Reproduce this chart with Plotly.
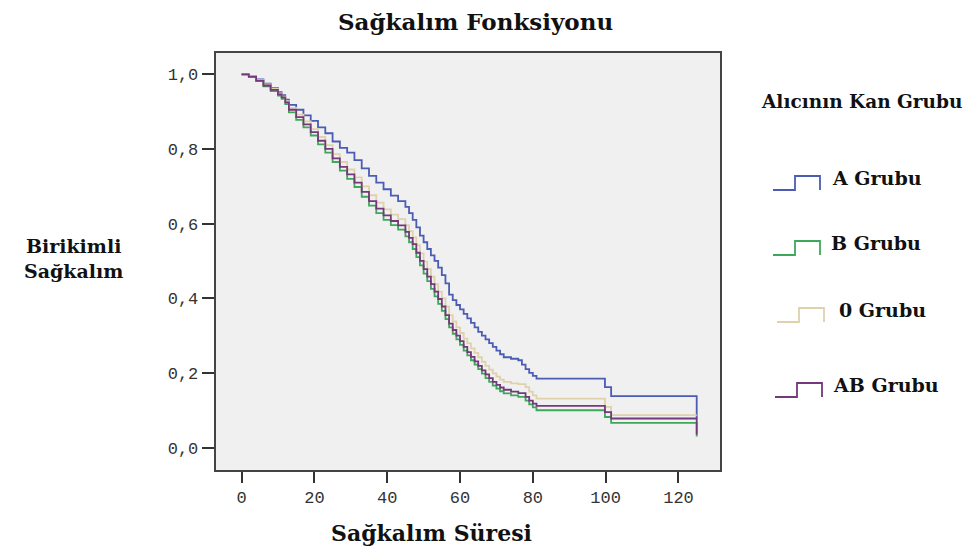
import plotly.graph_objects as go

# ---------------- data ----------------
series_names = ["A Grubu", "B Grubu", "0 Grubu", "AB Grubu"]
series_colors = ["#4a5cb4", "#3da85a", "#ded1ab", "#73397a"]

time_A = [0, 2, 4, 6, 8, 10, 11, 12, 13, 15, 17, 19, 21, 23, 25, 27, 29, 31, 33, 35, 37, 39, 41, 43, 45,
          46, 47, 48, 49, 50, 51, 52, 53, 54, 55, 56, 57, 58, 59, 60, 61, 62, 63, 64, 65, 66, 67, 68, 69,
          70, 71, 72, 74, 76, 77, 78, 79, 80, 81, 99.8, 101.5, 125]
surv_A = [1.0, 0.995, 0.986, 0.975, 0.963, 0.952, 0.944, 0.932, 0.918, 0.905, 0.89, 0.875, 0.858, 0.842,
          0.82, 0.803, 0.79, 0.77, 0.748, 0.728, 0.71, 0.692, 0.675, 0.66, 0.645, 0.628, 0.61, 0.59, 0.568,
          0.55, 0.532, 0.515, 0.5, 0.482, 0.462, 0.44, 0.41, 0.395, 0.382, 0.37, 0.358, 0.346, 0.334, 0.322,
          0.31, 0.3, 0.29, 0.28, 0.27, 0.26, 0.25, 0.242, 0.238, 0.234, 0.222, 0.21, 0.2, 0.192, 0.185,
          0.162, 0.138, 0.078]

time_low = [0, 2, 4, 6, 8, 10, 11, 12, 13, 15, 17, 19, 21, 23, 25, 27, 29, 31, 33, 35, 37, 39, 41, 43, 45,
            46, 47, 48, 49, 50, 51, 52, 53, 54, 55, 56, 57, 58, 59, 60, 61, 62, 63, 64, 65, 66, 67, 68, 69,
            70, 71, 72, 74, 76, 78, 79, 80, 81, 99.8, 101.5, 125]

surv_B = [1.0, 0.993, 0.982, 0.968, 0.955, 0.943, 0.934, 0.92, 0.898, 0.878, 0.858, 0.836, 0.812, 0.79,
          0.765, 0.742, 0.72, 0.698, 0.672, 0.648, 0.628, 0.61, 0.596, 0.584, 0.566, 0.55, 0.532, 0.51,
          0.488, 0.466, 0.446, 0.425, 0.405, 0.385, 0.366, 0.344, 0.322, 0.305, 0.29, 0.275, 0.26, 0.247,
          0.234, 0.222, 0.21, 0.198, 0.186, 0.176, 0.166, 0.158, 0.151, 0.145, 0.14, 0.136, 0.126, 0.116,
          0.108, 0.1, 0.082, 0.066, 0.03]

surv_0 = [1.0, 0.994, 0.985, 0.973, 0.961, 0.949, 0.94, 0.928, 0.91, 0.892, 0.874, 0.853, 0.832, 0.81,
          0.786, 0.765, 0.745, 0.724, 0.7, 0.676, 0.656, 0.638, 0.624, 0.612, 0.596, 0.58, 0.563, 0.542,
          0.52, 0.498, 0.478, 0.458, 0.438, 0.418, 0.4, 0.378, 0.355, 0.338, 0.322, 0.307, 0.292, 0.279,
          0.266, 0.254, 0.242, 0.23, 0.219, 0.209, 0.199, 0.19, 0.182, 0.176, 0.172, 0.17, 0.162, 0.15,
          0.14, 0.131, 0.109, 0.087, 0.087]

surv_AB = [1.0, 0.993, 0.983, 0.97, 0.958, 0.946, 0.938, 0.925, 0.905, 0.885, 0.866, 0.845, 0.822, 0.8,
           0.775, 0.752, 0.732, 0.71, 0.685, 0.66, 0.64, 0.622, 0.607, 0.595, 0.578, 0.562, 0.545, 0.522,
           0.5, 0.478, 0.458, 0.438, 0.418, 0.398, 0.378, 0.355, 0.332, 0.315, 0.3, 0.285, 0.27, 0.256,
           0.243, 0.231, 0.219, 0.207, 0.196, 0.186, 0.176, 0.168, 0.161, 0.155, 0.15, 0.146, 0.136, 0.126,
           0.118, 0.112, 0.095, 0.078, 0.035]

x_ticks = [0, 20, 40, 60, 80, 100, 120]
y_ticks = [0.0, 0.2, 0.4, 0.6, 0.8, 1.0]

chart_title = "Sağkalım Fonksiyonu"
x_title = "Sağkalım Süresi"
y_title = "Birikimli<br>Sağkalım"
legend_title = "Alıcının Kan Grubu"

# ---------------- figure ----------------
W, H = 978, 552
fig = go.Figure()

all_series = [(time_A, surv_A), (time_low, surv_B), (time_low, surv_0), (time_low, surv_AB)]
for (t, s), name, col in zip(all_series, series_names, series_colors):
    fig.add_trace(go.Scatter(x=t, y=s, mode="lines", name=name,
                             line=dict(color=col, width=1.8, shape="hv"),
                             showlegend=False, hoverinfo="skip"))

def px(x):
    return x / W

def py(y):
    return 1 - y / H

serif = "DejaVu Serif"
anns = []
anns.append(dict(text="<b>" + chart_title + "</b>", x=px(475), y=py(22), xref="paper", yref="paper",
                 showarrow=False, font=dict(family=serif, size=23, color="#111"),
                 xanchor="center", yanchor="middle"))
anns.append(dict(text="<b>" + x_title + "</b>", x=px(431), y=py(533), xref="paper", yref="paper",
                 showarrow=False, font=dict(family=serif, size=22, color="#111"),
                 xanchor="center", yanchor="middle"))
anns.append(dict(text="<b>" + y_title + "</b>", x=px(73), y=py(258), xref="paper", yref="paper",
                 showarrow=False, font=dict(family=serif, size=19, color="#111"),
                 xanchor="center", yanchor="middle", align="center"))
anns.append(dict(text="<b>" + legend_title + "</b>", x=px(759), y=py(102), xref="paper", yref="paper",
                 showarrow=False, font=dict(family=serif, size=18.5, color="#111"),
                 xanchor="left", yanchor="middle"))

# custom legend (step glyphs)
legend_rows = [(178, 830, 773), (243, 829, 773), (310, 837, 777), (385, 831, 775)]
shapes = []
for (yc, tx, gx), name, col in zip(legend_rows, series_names, series_colors):
    anns.append(dict(text="<b>" + name + "</b>", x=px(tx), y=py(yc), xref="paper", yref="paper",
                     showarrow=False, font=dict(family=serif, size=19, color="#111"),
                     xanchor="left", yanchor="middle"))
    low = yc + 12
    high = yc - 2
    path = "M {0},{1} L {2},{1} L {2},{3} L {4},{3} L {4},{1}".format(
        px(gx), py(low), px(gx + 22), py(high), px(gx + 47))
    shapes.append(dict(type="path", xref="paper", yref="paper", path=path,
                       line=dict(color=col, width=1.8)))

fig.update_layout(
    width=W, height=H,
    margin=dict(l=0, r=0, t=0, b=0),
    paper_bgcolor="white",
    plot_bgcolor="#f0f0f0",
    separators=",.",
    showlegend=False,
    annotations=anns,
    shapes=shapes,
    xaxis=dict(domain=[215.7 / W, 720 / W], range=[-7.1, 131.4], tickvals=x_ticks,
               ticks="outside", ticklen=11, tickwidth=2, tickcolor="#333",
               showline=True, linecolor="#444", linewidth=2, mirror=True,
               showgrid=False, zeroline=False,
               tickfont=dict(family="Liberation Mono", size=17, color="#333")),
    yaxis=dict(domain=[1 - 470 / H, 1 - 53 / H], range=[-0.06, 1.057], tickvals=y_ticks,
               tickformat=".1f",
               ticks="outside", ticklen=12, tickwidth=2, tickcolor="#333",
               showline=True, linecolor="#444", linewidth=2, mirror=True,
               showgrid=False, zeroline=False,
               tickfont=dict(family="Liberation Mono", size=17, color="#333")),
)

fig.write_html("out.html")
